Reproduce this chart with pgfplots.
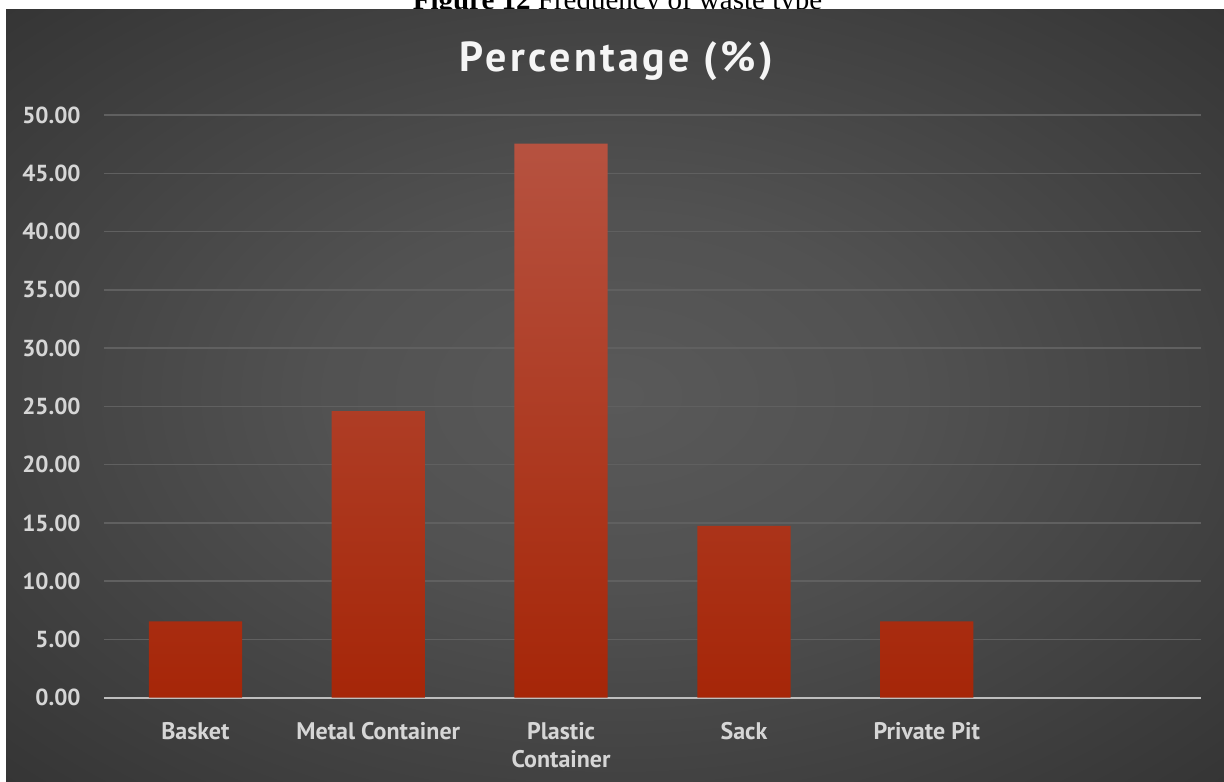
\documentclass[border=0pt]{standalone}
\usepackage{fontspec}
\setmainfont{PT Sans}
\newfontfamily\capfont{Liberation Serif}
\newfontfamily\titlefont[LetterSpace=8]{PT Sans}
\usepackage{pgfplots}
\pgfplotsset{compat=1.18}
\definecolor{lbl}{RGB}{214,214,214}
\definecolor{gridc}{RGB}{96,96,96}
\definecolor{axc}{RGB}{190,190,190}
\definecolor{bartop}{RGB}{182,82,64}
\definecolor{barbot}{RGB}{166,38,8}
\pgfdeclareradialshading{bgshade}{\pgfpoint{0bp}{0bp}}{rgb(0bp)=(0.35,0.35,0.35); rgb(12bp)=(0.32,0.32,0.32); rgb(35bp)=(0.21,0.21,0.21); rgb(50bp)=(0.165,0.165,0.165); rgb(72bp)=(0.15,0.15,0.15)}
\begin{document}
\begin{tikzpicture}[x=1bp,y=1bp]
\useasboundingbox (0,0) rectangle (612,390.5);
\clip (0,0) rectangle (612,390.5);
\node[anchor=base, inner sep=0pt, font=\capfont\fontsize{14.5bp}{16bp}\selectfont] at (308.75,386) {\textbf{Figure 12} Frequency of waste type};
\shade[shading=bgshade] (3,0) rectangle (612,385.5);
\node[anchor=base, inner sep=0pt, text=white!92!gray, font=\titlefont\bfseries\fontsize{21bp}{24bp}\selectfont] at (308.25,354.75) {Percentage (\%)};
\begin{axis}[
  at={(52bp,41.65bp)}, anchor=south west,
  scale only axis, width=548.5bp, height=291.35bp,
  xmin=-0.5, xmax=5.5, ymin=0, ymax=50,
  ybar, bar width=0.51, bar shift=0pt,
  axis x line*=bottom, axis y line*=left,
  x axis line style={draw=axc, line width=1bp, -},
  y axis line style={draw=none},
  major tick length=0pt,
  ytick={0,5,...,50},
  ymajorgrids, grid style={draw=gridc, line width=0.7bp},
  xtick={0,1,2,3,4},
  xticklabels={Basket, Metal Container, {Plastic\\Container}, Sack, Private Pit},
  xticklabel style={align=center, inner sep=0pt, anchor=north, yshift=-12bp, font=\bfseries\fontsize{12bp}{14bp}\selectfont, text=lbl},
  yticklabel style={inner sep=0pt, anchor=east, xshift=-11.5bp, font=\bfseries\fontsize{11.6bp}{14bp}\selectfont, text=lbl, /pgf/number format/.cd, fixed, fixed zerofill, precision=2, assume math mode=true},
]
\addplot[draw=none, top color=bartop, bottom color=barbot] coordinates {(0,6.56) (1,24.59) (2,47.54) (3,14.75) (4,6.56)};
\end{axis}
\end{tikzpicture}
\end{document}
